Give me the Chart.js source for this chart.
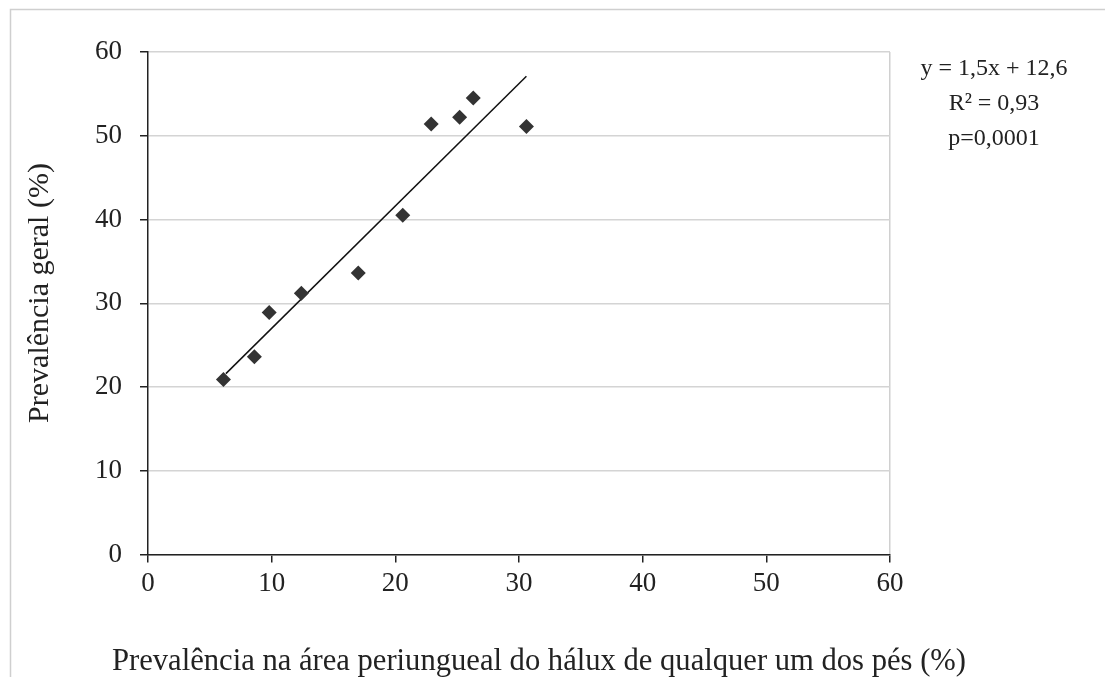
<!DOCTYPE html>
<html>
<head>
<meta charset="utf-8">
<script src="https://cdn.jsdelivr.net/npm/chart.js@4"></script>
<style>
  html, body { margin: 0; padding: 0; background: #fff; }
  #wrap { position: relative; width: 1105px; height: 677px; }
</style>
</head>
<body>
<div id="wrap"><canvas id="chart" width="1105" height="677"></canvas></div>
<script>
// points
const prevHalux = [6.1, 8.6, 9.8, 12.4, 17.0, 20.6, 22.9, 25.2, 26.3, 30.6];
const prevGeral = [20.9, 23.6, 28.9, 31.2, 33.6, 40.5, 51.4, 52.2, 54.5, 51.1];

// ends of the trend line as drawn
const trendX = [6.3, 30.6];
const trendY = [21.6, 57.1];

const eqLines = ['y = 1,5x + 12,6', 'R² = 0,93', 'p=0,0001'];
const xTitle = 'Prevalência na área periungueal do hálux de qualquer um dos pés (%)';
const yTitle = 'Prevalência geral (%)';

const serif = "'Liberation Serif', 'Times New Roman', serif";

// frame, axis titles and the regression note
const extras = {
  id: 'extras',
  beforeDraw(chart) {
    const ctx = chart.ctx;
    ctx.save();
    ctx.strokeStyle = '#cfcfcf';
    ctx.lineWidth = 1.5;
    ctx.strokeRect(10.5, 9.5, 1200, 800);
    ctx.restore();
  },
  afterDraw(chart) {
    const ctx = chart.ctx;
    ctx.save();
    ctx.fillStyle = '#222';
    ctx.textAlign = 'center';
    ctx.textBaseline = 'middle';

    ctx.font = '24px ' + serif;
    eqLines.forEach((t, i) => ctx.fillText(t, 994, 69 + i * 35));

    ctx.font = '31px ' + serif;
    ctx.fillText(xTitle, 539, 662, 854);

    ctx.translate(40, 293);
    ctx.rotate(-Math.PI / 2);
    ctx.font = '30px ' + serif;
    ctx.fillText(yTitle, 0, 0, 260);
    ctx.restore();
  }
};

new Chart(document.getElementById('chart'), {
  type: 'scatter',
  data: {
    datasets: [
      {
        label: 'Prevalência',
        data: prevHalux.map((x, i) => ({ x, y: prevGeral[i] })),
        pointStyle: 'rectRot',
        pointRadius: 7.5,
        pointHoverRadius: 7.5,
        backgroundColor: '#333',
        borderColor: '#333',
        borderWidth: 0
      },
      {
        label: 'Tendência',
        type: 'line',
        data: trendX.map((x, i) => ({ x, y: trendY[i] })),
        borderColor: '#111',
        borderWidth: 1.5,
        pointRadius: 0,
        fill: false
      }
    ]
  },
  options: {
    responsive: false,
    animation: false,
    layout: { padding: { left: 10, top: 52, right: 215, bottom: 0 } },
    plugins: {
      legend: { display: false },
      tooltip: { enabled: false }
    },
    scales: {
      x: {
        type: 'linear',
        min: 0,
        max: 60,
        afterFit: s => { s.height = 122.5; },
        ticks: {
          stepSize: 10,
          padding: 5,
          color: '#222',
          font: { family: serif, size: 27 }
        },
        grid: {
          color: c => c.tick && c.tick.value === 60 ? '#d0d0d0' : 'rgba(0,0,0,0)',
          lineWidth: 1.5,
          tickColor: '#222',
          tickLength: 8
        },
        border: { color: '#222', width: 1.5 }
      },
      y: {
        min: 0,
        max: 60,
        afterFit: s => { s.width = 138; },
        ticks: {
          stepSize: 10,
          padding: 18,
          color: '#222',
          font: { family: serif, size: 27 }
        },
        grid: {
          color: '#d4d4d4',
          lineWidth: 1.5,
          tickColor: '#222',
          tickLength: 8
        },
        border: { color: '#222', width: 1.5 }
      }
    }
  },
  plugins: [extras]
});
</script>
</body>
</html>
